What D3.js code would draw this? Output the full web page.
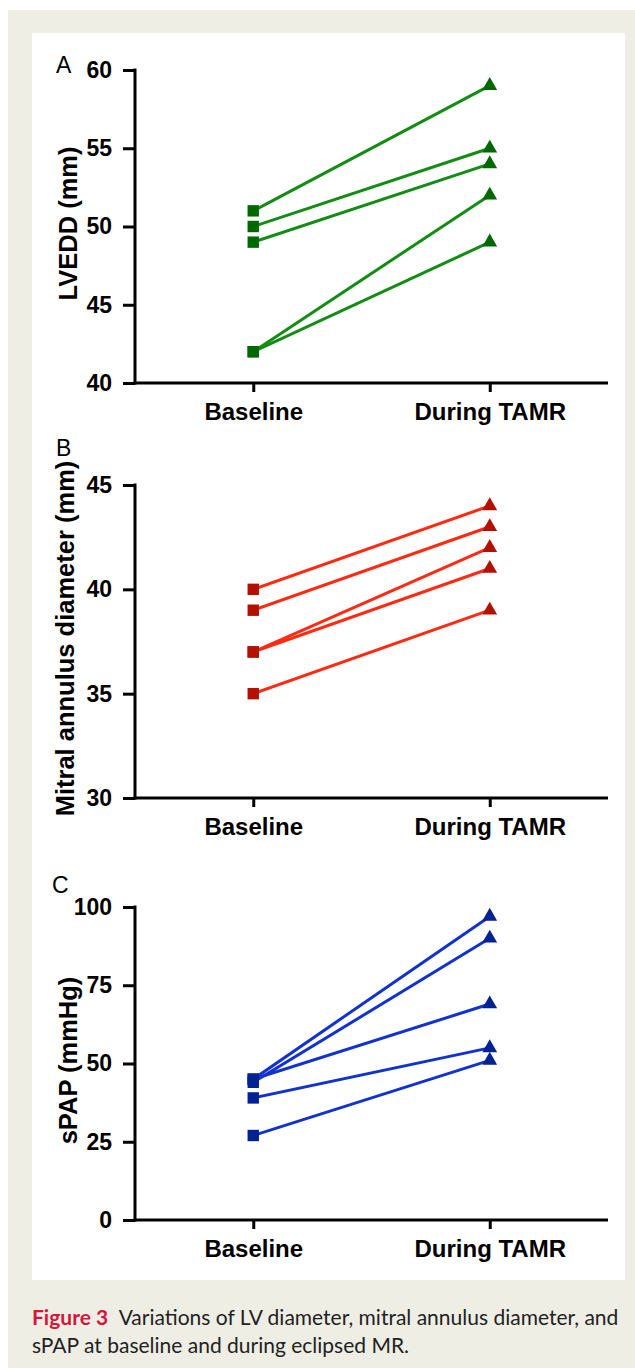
<!DOCTYPE html>
<html>
<head>
<meta charset="utf-8">
<script src="https://cdn.jsdelivr.net/npm/d3@7"></script>
<style>
  body { margin: 0; background: #fff; }
  .tick text { font-family: "Liberation Sans", Arial, sans-serif; font-weight: bold; }
</style>
</head>
<body>
<script>
// Groups on the x axis
var groups = ["Baseline", "During TAMR"];

// Panel A - LVEDD (mm)
var lvBaseline = [51, 50, 49, 42, 42];
var lvTamr     = [59, 55, 54, 52, 49];
var lvTicks    = [40, 45, 50, 55, 60];

// Panel B - mitral annulus diameter (mm)
var maBaseline = [40, 39, 37, 37, 35];
var maTamr     = [44, 43, 42, 41, 39];
var maTicks    = [30, 35, 40, 45];

// Panel C - sPAP (mmHg)
var papBaseline = [45, 44, 45, 39, 27];
var papTamr     = [97, 90, 69, 55, 51];
var papTicks    = [0, 25, 50, 75, 100];

var W = 635, H = 1368;
var font = "'Liberation Sans', Arial, sans-serif";

var svg = d3.select("body").append("svg")
    .attr("width", W)
    .attr("height", H);

// page background + white figure area
svg.append("rect").attr("x", 8).attr("y", 10).attr("width", W - 8).attr("height", H - 10).attr("fill", "#efeee5");
svg.append("rect").attr("x", 32).attr("y", 33).attr("width", 593).attr("height", 1247).attr("fill", "#fff");

var x = d3.scalePoint().domain(groups).range([135, 608]).padding(0.5);

var panels = [
  { letter: "A", title: "LVEDD (mm)", base: lvBaseline, tamr: lvTamr, ticks: lvTicks,
    top: 70, bottom: 383, line: "#128c12", mark: "#006800", lx: 56, ly: 73, tx: 77 },
  { letter: "B", title: "Mitral annulus diameter (mm)", base: maBaseline, tamr: maTamr, ticks: maTicks,
    top: 485, bottom: 798, line: "#ff2a12", mark: "#b41000", lx: 56, ly: 456, tx: 74 },
  { letter: "C", title: "sPAP (mmHg)", base: papBaseline, tamr: papTamr, ticks: papTicks,
    top: 907, bottom: 1220, line: "#1232d0", mark: "#002292", lx: 52, ly: 893, tx: 77 }
];

panels.forEach(function(p) {
  var y = d3.scaleLinear()
      .domain(d3.extent(p.ticks))
      .range([p.bottom, p.top]);

  var g = svg.append("g");

  // Y axis
  var yAxis = g.append("g")
      .attr("transform", "translate(135,0)")
      .call(d3.axisLeft(y).tickValues(p.ticks).tickSize(12).tickSizeOuter(0).tickPadding(11));
  yAxis.selectAll("text").attr("font-size", 23).attr("fill", "#000");

  // X axis
  var xAxis = g.append("g")
      .attr("transform", "translate(0," + p.bottom + ")")
      .call(d3.axisBottom(x).tickSize(9).tickSizeOuter(0).tickPadding(11));
  xAxis.selectAll("text").attr("font-size", 24).attr("fill", "#000");

  g.selectAll(".domain, .tick line")
      .attr("stroke", "#000")
      .attr("stroke-width", 3);
  xAxis.select(".domain").attr("d", "M133.5,0H608");
  yAxis.select(".domain").attr("d", "M0," + (p.top - 1.5) + "V" + (p.bottom + 1.5));

  // axis title
  g.append("text")
      .attr("transform", "translate(" + p.tx + "," + ((p.top + p.bottom) / 2 - 3) + ") rotate(-90)")
      .attr("text-anchor", "middle")
      .attr("font-family", font)
      .attr("font-weight", "bold")
      .attr("font-size", 25.5)
      .text(p.title);

  // panel letter
  g.append("text")
      .attr("x", p.lx)
      .attr("y", p.ly)
      .attr("font-family", font)
      .attr("font-size", 23)
      .text(p.letter);

  var pairs = p.base.map(function(b, i) { return [b, p.tamr[i]]; });

  // connecting lines
  g.selectAll(".pair")
      .data(pairs)
      .enter().append("line")
      .attr("x1", x(groups[0]))
      .attr("x2", x(groups[1]))
      .attr("y1", function(d) { return y(d[0]); })
      .attr("y2", function(d) { return y(d[1]); })
      .attr("stroke", p.line)
      .attr("stroke-width", 3);

  // baseline squares
  g.selectAll(".sq")
      .data(p.base)
      .enter().append("path")
      .attr("d", d3.symbol().type(d3.symbolSquare).size(130))
      .attr("transform", function(d) { return "translate(" + x(groups[0]) + "," + y(d) + ")"; })
      .attr("fill", p.mark);

  // during TAMR triangles
  g.selectAll(".tri")
      .data(p.tamr)
      .enter().append("path")
      .attr("d", d3.symbol().type(d3.symbolTriangle).size(95))
      .attr("transform", function(d) { return "translate(" + x(groups[1]) + "," + y(d) + ")"; })
      .attr("fill", p.mark);
});

// caption
var cap = svg.append("text")
    .attr("x", 32)
    .attr("y", 1325)
    .attr("font-family", "Lato, 'Open Sans', sans-serif")
    .attr("font-size", 21)
    .attr("fill", "#222");
cap.append("tspan").attr("font-weight", "bold").attr("fill", "#d4163c").text("Figure 3");
cap.append("tspan").text("\u2002Variations of LV diameter, mitral annulus diameter, and");

svg.append("text")
    .attr("x", 32)
    .attr("y", 1353)
    .attr("font-family", "Lato, 'Open Sans', sans-serif")
    .attr("font-size", 21)
    .attr("fill", "#222")
    .text("sPAP at baseline and during eclipsed MR.");
</script>
</body>
</html>
